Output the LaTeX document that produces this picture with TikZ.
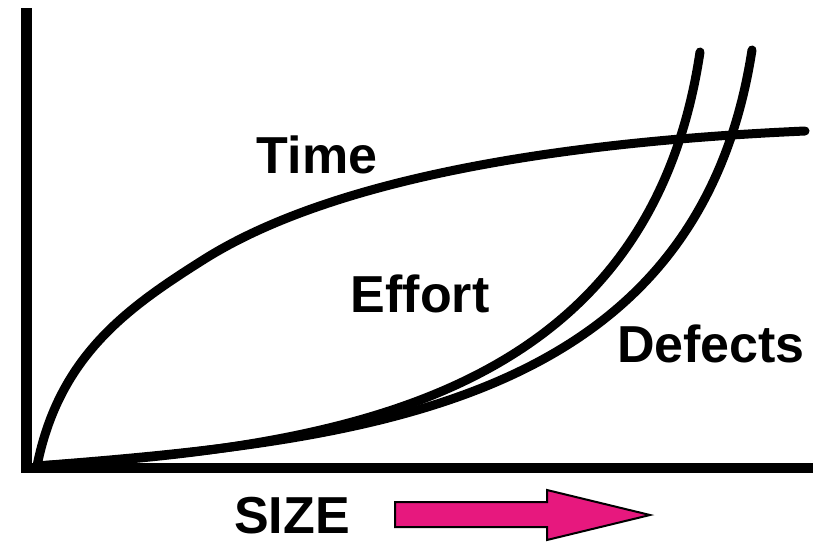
\documentclass[tikz,border=0pt]{standalone}
\usepackage{fontspec}
\setmainfont{Liberation Sans}
\definecolor{sizepink}{RGB}{231,24,126}
\begin{document}
\begin{tikzpicture}[x=1pt,y=-1pt,
  curve/.style={line width=9pt, line cap=round, line join=round},
  lab/.style={font=\fontsize{52}{52}\selectfont\bfseries, anchor=base, inner sep=0pt},
  bigarrow/.style={fill=sizepink, draw=black, line width=2pt, line join=miter}]
\useasboundingbox (0,0) rectangle (813,544);
% axes
\draw[line width=11pt] (26.5,8) -- (26.5,473);
\draw[line width=10pt] (21,468) -- (813,468);
% Time
\draw[curve] (37,466) .. controls (59,356) and (127,308) .. (203,260)
                     .. controls (330,179.5) and (555,142) .. (805,131);
% Effort
\draw[curve] (37,466) .. controls (337,447) and (648,400) .. (700,52);
% Defects
\draw[curve] (37,466) .. controls (367,440) and (697,405) .. (752,50);
% labels
\node[lab] (time) at (317,173) {Time};
\node[lab] (effort) at (420,312) {Effort};
\node[lab] (defects) at (711,362) {Defects};
\node[lab] (size) at (292,533) {SIZE};
% arrow
\draw[bigarrow] (395,502) -- (547,502) -- (547,490) -- (650,515) -- (547,540) -- (547,527) -- (395,527) -- cycle;
\end{tikzpicture}
\end{document}
